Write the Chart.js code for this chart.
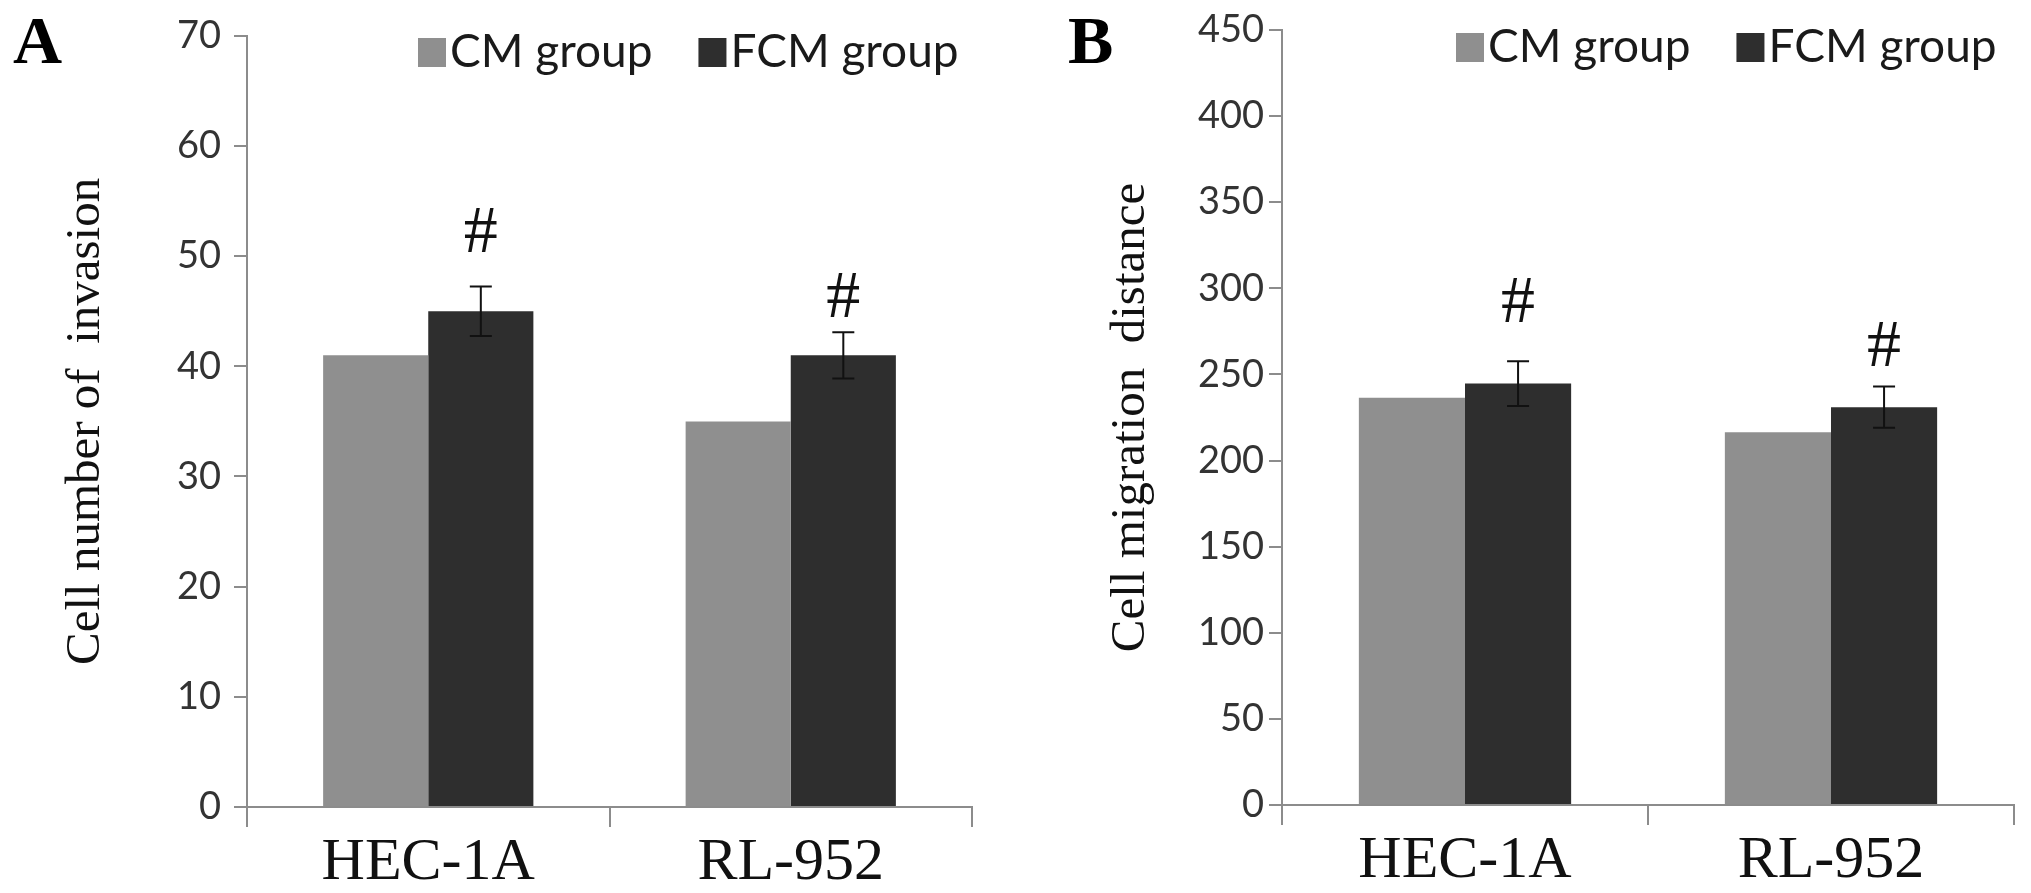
<!DOCTYPE html>
<html>
<head>
<meta charset="utf-8">
<script src="https://cdn.jsdelivr.net/npm/chart.js@4.4.0/dist/chart.umd.min.js"></script>
<style>
  html, body { margin: 0; padding: 0; background: #fff; }
  body { width: 2031px; height: 893px; position: relative; overflow: hidden; }
  .panel { position: absolute; top: 0; height: 893px; }
  #panelA { left: 0; width: 1000px; }
  #panelB { left: 1000px; width: 1031px; }
</style>
</head>
<body>
<div class="panel" id="panelA"><canvas id="chartA"></canvas></div>
<div class="panel" id="panelB"><canvas id="chartB"></canvas></div>
<script>
// categories and series
const cellLines = ['HEC-1A', 'RL-952'];
const seriesNames = ['CM group', 'FCM group'];

// panel A - invasion
const invasionCM = [41, 35];
const invasionFCM = [45, 41];
const invasionFCMErr = [2.25, 2.1];
const invasionHashAt = [52.0, 46.1];   // value level where the '#' sits
const invasionTicks = [0, 10, 20, 30, 40, 50, 60, 70];

// panel B - migration
const migrationCM = [236.5, 216.5];
const migrationFCM = [244.7, 231];
const migrationFCMErr = [13, 12];
const migrationHashAt = [291.0, 265.3];
const migrationTicks = [0, 50, 100, 150, 200, 250, 300, 350, 400, 450];

const AXIS_GREY = '#8c8c8c';
Chart.defaults.font.family = 'Lato';

// error bars, '#' marks, legend and panel letter
const annotate = {
    id: 'annotate',
    afterDatasetsDraw(chart, args, opts) {
        const ctx = chart.ctx;
        const yScale = chart.scales.y;
        const meta = chart.getDatasetMeta(1);
        const values = chart.data.datasets[1].data;
        ctx.save();
        ctx.strokeStyle = '#111';
        ctx.fillStyle = '#111';
        ctx.lineWidth = 2;
        opts.errors.forEach((err, i) => {
            const bar = meta.data[i];
            const top = yScale.getPixelForValue(values[i] + err);
            const bot = yScale.getPixelForValue(values[i] - err);
            ctx.beginPath();
            ctx.moveTo(bar.x, top);
            ctx.lineTo(bar.x, bot);
            ctx.moveTo(bar.x - 11, top);
            ctx.lineTo(bar.x + 11, top);
            ctx.moveTo(bar.x - 11, bot);
            ctx.lineTo(bar.x + 11, bot);
            ctx.stroke();

            ctx.font = '68px "Liberation Serif"';
            ctx.textAlign = 'center';
            ctx.textBaseline = 'middle';
            ctx.fillText('#', bar.x, yScale.getPixelForValue(opts.hashAt[i]));
        });

        // legend
        ctx.font = '46px Lato';
        ctx.textAlign = 'left';
        ctx.textBaseline = 'alphabetic';
        let x = opts.legendX;
        chart.data.datasets.forEach(ds => {
            ctx.fillStyle = ds.backgroundColor;
            ctx.fillRect(x, opts.legendBase - 29, 28, 29);
            x += 32;
            ctx.fillStyle = '#1a1a1a';
            ctx.fillText(ds.label, x, opts.legendBase);
            x += ctx.measureText(ds.label).width + 46;
        });

        // panel letter
        ctx.font = 'bold 68px "Liberation Serif"';
        ctx.fillStyle = '#000';
        ctx.fillText(opts.letter, opts.letterX, 63);
        ctx.restore();
    }
};

function makeChart(canvasId, cfg) {
    return new Chart(document.getElementById(canvasId), {
        type: 'bar',
        data: {
            labels: cellLines,
            datasets: [{
                label: seriesNames[0],
                data: cfg.cm,
                backgroundColor: '#8f8f8f',
                borderWidth: 0,
                barPercentage: 1,
                categoryPercentage: 0.58
            }, {
                label: seriesNames[1],
                data: cfg.fcm,
                backgroundColor: '#2e2e2e',
                borderWidth: 0,
                barPercentage: 1,
                categoryPercentage: 0.58
            }]
        },
        options: {
            responsive: true,
            maintainAspectRatio: false,
            animation: false,
            layout: {
                padding: { top: cfg.top, right: cfg.right, left: 0, bottom: 0 }
            },
            scales: {
                x: {
                    offset: true,
                    grid: {
                        offset: true,
                        drawOnChartArea: false,
                        tickLength: 20,
                        lineWidth: 2,
                        color: ctx => ctx.index === 2 ? 'rgba(0,0,0,0)' : AXIS_GREY
                    },
                    border: { display: true, color: AXIS_GREY, width: 2 },
                    ticks: {
                        font: { family: 'Liberation Serif', size: 60 },
                        color: '#111',
                        padding: 0
                    },
                    afterFit(scale) { scale.height = 893 - cfg.bottom; }
                },
                y: {
                    min: cfg.ticks[0],
                    max: cfg.ticks[cfg.ticks.length - 1],
                    ticks: {
                        stepSize: cfg.ticks[1] - cfg.ticks[0],
                        font: { size: 38 },
                        color: '#333',
                        padding: cfg.tickPad
                    },
                    grid: {
                        drawOnChartArea: false,
                        tickLength: 13,
                        lineWidth: 2,
                        color: AXIS_GREY
                    },
                    border: { color: AXIS_GREY, width: 2 },
                    title: {
                        display: true,
                        text: cfg.title,
                        font: { family: 'Liberation Serif', size: 49 },
                        color: '#111',
                        padding: { top: cfg.titlePad, bottom: 0 }
                    },
                    afterFit(scale) { scale.width = cfg.axisX; }
                }
            },
            plugins: {
                legend: { display: false },
                tooltip: { enabled: false },
                annotate: {
                    errors: cfg.err,
                    hashAt: cfg.hashAt,
                    legendX: cfg.legendX,
                    legendBase: cfg.legendBase,
                    letter: cfg.letter,
                    letterX: cfg.letterX
                }
            }
        },
        plugins: [annotate]
    });
}

makeChart('chartA', {
    cm: invasionCM, fcm: invasionFCM, err: invasionFCMErr, hashAt: invasionHashAt,
    ticks: invasionTicks, title: 'Cell number of  invasion',
    top: 34, bottom: 807, right: 28, axisX: 247, tickPad: 13, titlePad: 57,
    legendX: 418, legendBase: 67, letter: 'A', letterX: 13
});

makeChart('chartB', {
    cm: migrationCM, fcm: migrationFCM, err: migrationFCMErr, hashAt: migrationHashAt,
    ticks: migrationTicks, title: 'Cell migration  distance',
    top: 30, bottom: 805, right: 17, axisX: 282, tickPad: 5, titlePad: 102,
    legendX: 456, legendBase: 62, letter: 'B', letterX: 68
});
</script>
</body>
</html>
